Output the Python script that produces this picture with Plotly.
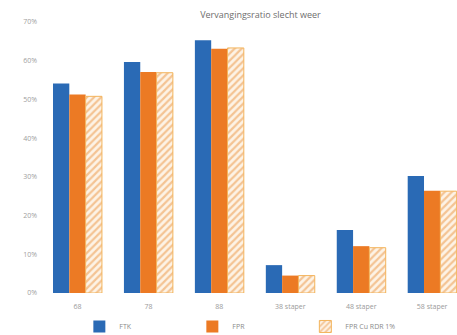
import plotly.graph_objects as go

categories = ["68", "78", "88", "38 staper", "48 staper", "58 staper"]
ftk = [54.1, 59.7, 65.3, 7.2, 16.3, 30.2]
fpr = [51.3, 57.1, 63.1, 4.5, 12.1, 26.4]
fpr_rdr = [50.8, 56.9, 63.3, 4.5, 11.7, 26.3]

blue = "#2a6ab5"
orange = "#ec7a24"

fig = go.Figure()
fig.add_trace(go.Bar(
    x=categories, y=ftk, name="FTK",
    marker=dict(color=blue, line=dict(width=0)),
))
fig.add_trace(go.Bar(
    x=categories, y=fpr, name="FPR",
    marker=dict(color=orange, line=dict(width=0)),
))
fig.add_trace(go.Bar(
    x=categories, y=fpr_rdr, name="FPR Cu RDR 1%",
    marker=dict(
        color="#fdf3e6",
        line=dict(color="#f3b45c", width=1),
        pattern=dict(shape="/", fgcolor="#eb9440", bgcolor="#fdf3e6",
                     size=5, solidity=0.45),
    ),
))

fig.update_layout(
    width=457, height=335,
    margin=dict(l=42, r=0, t=22, b=42, autoexpand=False),
    paper_bgcolor="white", plot_bgcolor="white",
    font=dict(family="Open Sans", size=8, color="#9a9a9a"),
    title=dict(text="Vervangingsratio slecht weer", x=0.57, xanchor="center",
               y=0.965, yanchor="top",
               font=dict(size=9, color="#6e6e6e")),
    barmode="group", bargap=0.31, bargroupgap=0,
    showlegend=True,
    legend=dict(orientation="h", x=0.09, xanchor="left", y=-0.07, yanchor="top",
                font=dict(size=7, color="#8a8a8a"), itemwidth=30,
                traceorder="normal", entrywidthmode="pixels", entrywidth=68),
)
fig.update_xaxes(range=[-0.5, 5.35], showgrid=False, showline=False,
                 ticks="", ticklabelstandoff=8,
                 tickfont=dict(size=7, color="#9a9a9a"))
fig.update_yaxes(range=[0, 70], dtick=10, ticksuffix="%", showgrid=False,
                 zeroline=False, showline=False, ticklabelstandoff=4,
                 tickfont=dict(size=7, color="#a0a0a0"))

fig.write_html("out.html")
